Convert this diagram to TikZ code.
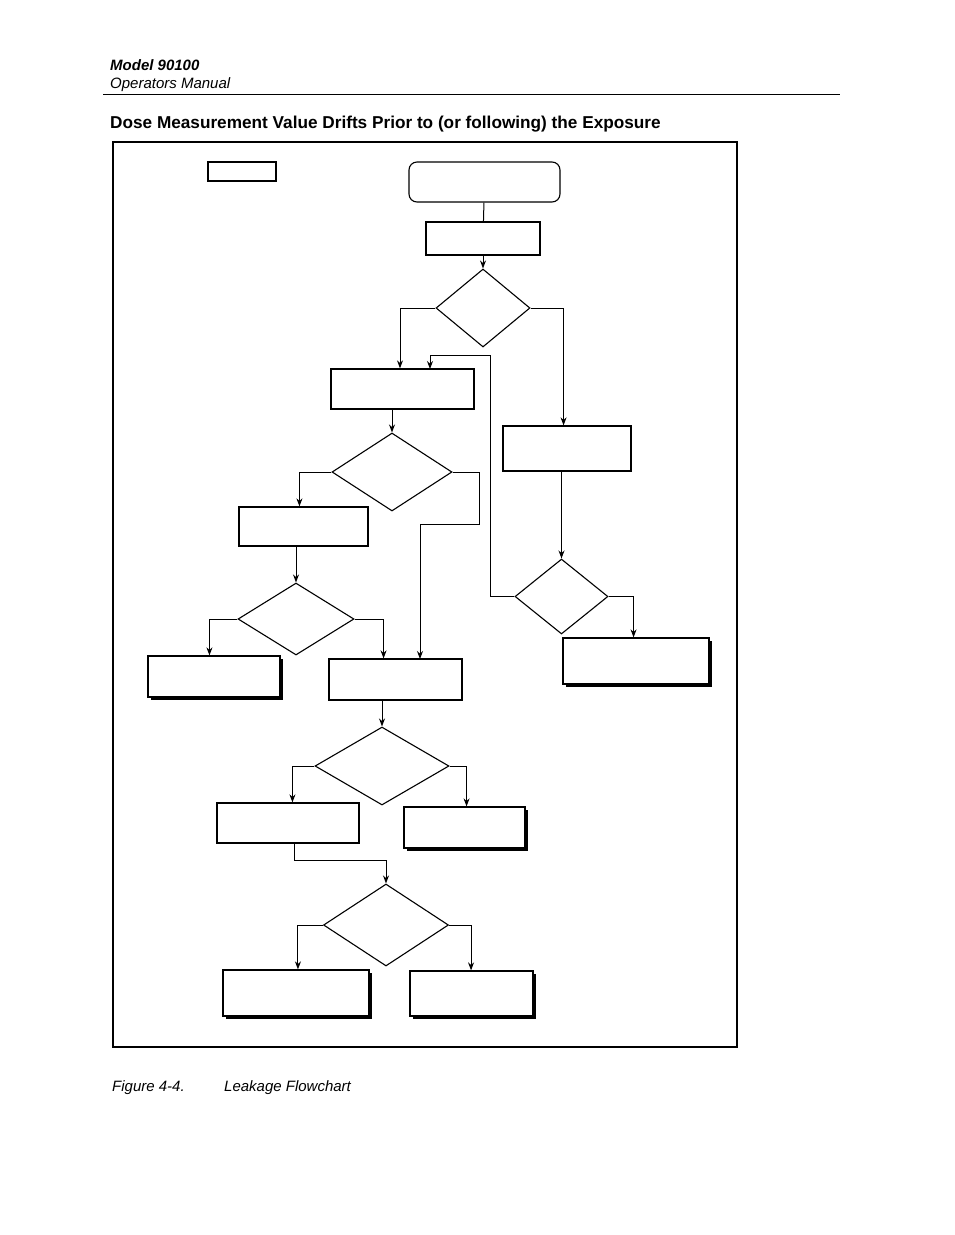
\documentclass[tikz,border=0pt]{standalone}
\usepackage{fontspec}
\setmainfont{Liberation Sans}
\usetikzlibrary{shapes.geometric,shadows,arrows.meta}
\tikzset{
  box/.style={draw,line width=1.3pt,inner sep=0pt,fill=white},
  sbox/.style={box,drop shadow={black,opacity=1,shadow xshift=3pt,shadow yshift=-3pt}},
  start/.style={box,line width=1.1pt,rounded corners=8pt},
  decision/.style={draw,line width=1.1pt,diamond,inner sep=0pt},
  flow/.style={line width=1pt,-{Stealth[length=8pt,width=6pt]}},
}
\begin{document}
\begin{tikzpicture}[x=1pt,y=-1pt]
\useasboundingbox (0,0) rectangle (954,1235);
% page header
\node[anchor=base west,inner sep=0pt] (hmodel) at (110,70) {\fontsize{15}{17}\selectfont\bfseries\itshape Model 90100};
\node[anchor=base west,inner sep=0pt] (hman) at (110,88) {\fontsize{15}{17}\selectfont\itshape Operators Manual};
\draw (103,94) -- (840,94);
\node[anchor=base west,inner sep=0pt] (title) at (110,128) {\fontsize{17.2}{19}\selectfont\bfseries Dose Measurement Value Drifts Prior to (or following) the Exposure};
\draw[line width=1.1pt] (113,142) rectangle (737,1047);

% legend and start
\node[box,minimum width=68,minimum height=19] (legend) at (242,171.5) {};
\node[start,minimum width=151,minimum height=40] (begin) at (484.5,182) {};
\node[box,minimum width=114,minimum height=33] (chk) at (483,238.5) {};
\node[decision,minimum width=94,minimum height=78] (q1) at (483,308) {};

% left branch
\node[box,minimum width=143,minimum height=40] (meas) at (402.5,389) {};
\node[decision,minimum width=120,minimum height=78] (q2) at (392,472) {};
\node[box,minimum width=129,minimum height=39] (cable) at (303.5,526.5) {};
\node[decision,minimum width=116,minimum height=72] (q4) at (296,619) {};
\node[sbox,minimum width=132,minimum height=41] (fix1) at (214,676.5) {};
\node[box,minimum width=133,minimum height=41] (chamb) at (395.5,679.5) {};
\node[decision,minimum width=134,minimum height=78] (q5) at (382,766) {};
\node[box,minimum width=142,minimum height=40] (temp) at (288,823) {};
\node[sbox,minimum width=121,minimum height=41] (fix2) at (464.5,827.5) {};
\node[decision,minimum width=125,minimum height=82] (q6) at (386,925) {};
\node[sbox,minimum width=146,minimum height=46] (fix3) at (296,993) {};
\node[sbox,minimum width=123,minimum height=45] (fix4) at (471.5,993.5) {};

% right branch
\node[box,minimum width=128,minimum height=45] (wait) at (567,448.5) {};
\node[decision,minimum width=93,minimum height=75] (q3) at (561.5,596.5) {};
\node[sbox,minimum width=146,minimum height=46] (fix5) at (636,661) {};

% connectors
\draw[line width=1pt] (begin) -- (chk);
\draw[flow] (chk) -- (q1);
\draw[flow] (q1.west) -| ([xshift=-2.5]meas.north);
\draw[flow] (q1.east) -- ++(33,0) coordinate (q1r) -- (q1r |- wait.north);
\draw[flow] (q3.west) -- ++(-24,0) coordinate (q3l) -- (q3l |- 0,355) -- (430,355) -- (430,369);
\draw[flow] (meas.south -| q2.north) -- (q2.north);
\draw[flow] (q2.west) -- ++(-32,0) coordinate (q2l) -- (q2l |- cable.north);
\draw[flow] (q2.east) -- ++(27,0) coordinate (q2r) -- ++(0,52) -- (420,524) -- (420,659);
\draw[flow] (wait.south -| q3.north) -- (q3.north);
\draw[flow] (q3.east) -- ++(25,0) coordinate (q3r) -- (q3r |- fix5.north);
\draw[flow] (cable.south -| q4.north) -- (q4.north);
\draw[flow] (q4.west) -- ++(-28,0) coordinate (q4l) -- (q4l |- fix1.north);
\draw[flow] (q4.east) -- ++(29,0) coordinate (q4r) -- (q4r |- chamb.north);
\draw[flow] (chamb.south -| q5.north) -- (q5.north);
\draw[flow] (q5.west) -- ++(-22,0) coordinate (q5l) -- (q5l |- temp.north);
\draw[flow] (q5.east) -- ++(17,0) coordinate (q5r) -- (q5r |- fix2.north);
\draw[flow] (294,843) -- (294,860) -- (386,860) -- (q6.north);
\draw[flow] (q6.west) -- ++(-25,0) coordinate (q6l) -- (q6l |- fix3.north);
\draw[flow] (q6.east) -- ++(22,0) coordinate (q6r) -- (q6r |- fix4.north);

% caption
\node[anchor=base west,inner sep=0pt] (fig) at (112,1091) {\fontsize{15}{17}\selectfont\itshape Figure 4-4.};
\node[anchor=base west,inner sep=0pt] (cap) at (224,1091) {\fontsize{15}{17}\selectfont\itshape Leakage Flowchart};
\end{tikzpicture}
\end{document}
